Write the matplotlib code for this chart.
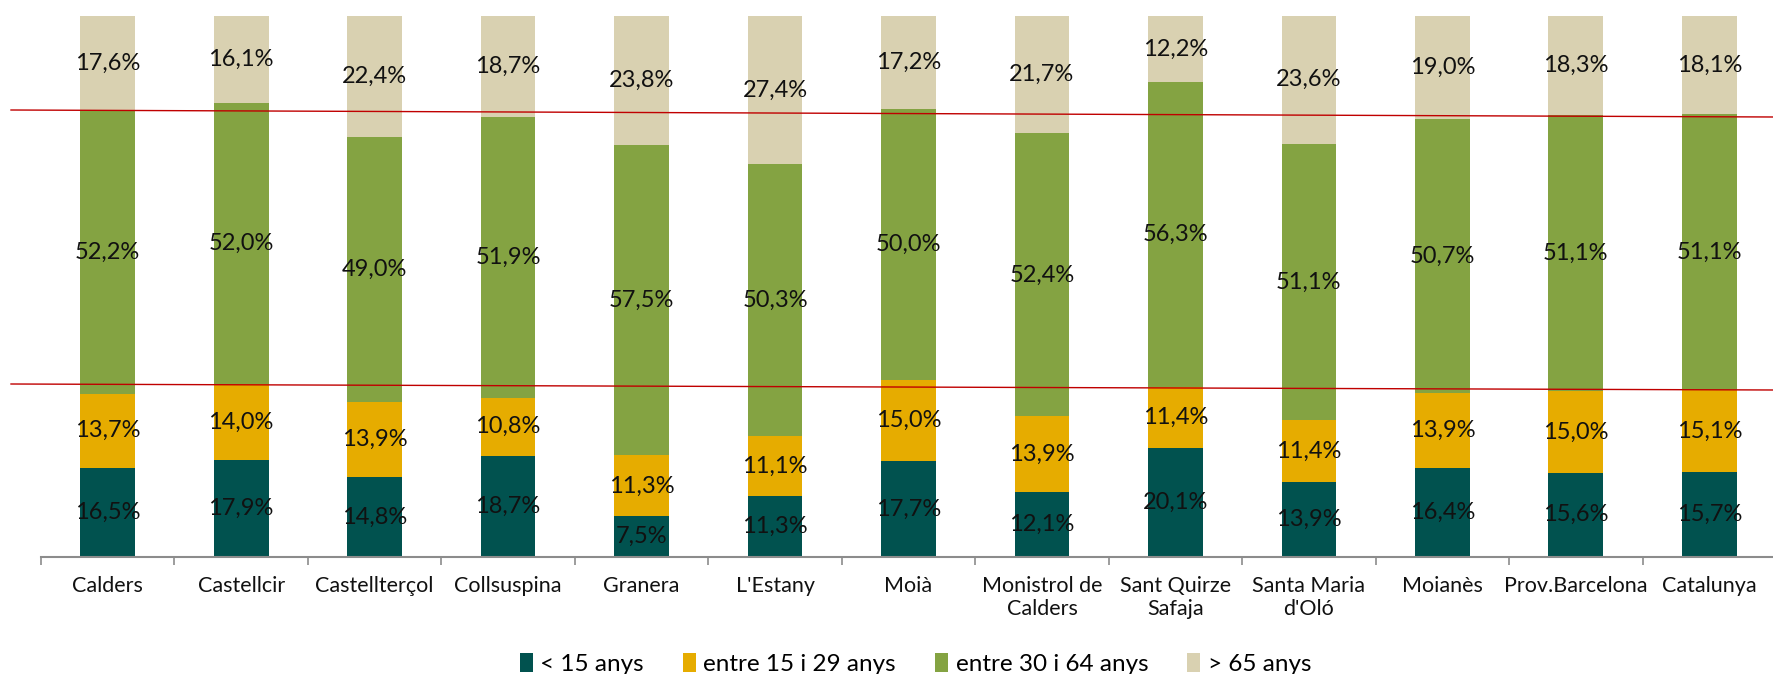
import matplotlib
matplotlib.use("Agg")
import matplotlib.pyplot as plt
import numpy as np
from matplotlib.lines import Line2D
from matplotlib.patches import Patch

categories = ['Calders', 'Castellcir', 'Castellterçol', 'Collsuspina', 'Granera',
              "L'Estany", 'Moià', 'Monistrol de\nCalders', 'Sant Quirze\nSafaja',
              "Santa Maria\nd'Oló", 'Moianès', 'Prov.Barcelona', 'Catalunya']
under15 = [16.5, 17.9, 14.8, 18.7, 7.5, 11.3, 17.7, 12.1, 20.1, 13.9, 16.4, 15.6, 15.7]
age15_29 = [13.7, 14.0, 13.9, 10.8, 11.3, 11.1, 15.0, 13.9, 11.4, 11.4, 13.9, 15.0, 15.1]
age30_64 = [52.2, 52.0, 49.0, 51.9, 57.5, 50.3, 50.0, 52.4, 56.3, 51.1, 50.7, 51.1, 51.1]
over65 = [17.6, 16.1, 22.4, 18.7, 23.8, 27.4, 17.2, 21.7, 12.2, 23.6, 19.0, 18.3, 18.1]
series_names = ['< 15 anys', 'entre 15 i 29 anys', 'entre 30 i 64 anys', '> 65 anys']
colors = ['#01524F', '#E6AC00', '#84A342', '#D9D1B1']

plt.rcParams['font.family'] = ['Lato', 'DejaVu Sans']

W, H = 1774, 674
fig = plt.figure(figsize=(W / 100, H / 100), dpi=100)
ax = fig.add_axes([41 / W, 1 - 557 / H, (1776 - 41) / W, (557 - 16) / H])

data = np.array([under15, age15_29, age30_64, over65], dtype=float)
pct = data / data.sum(axis=0) * 100
x = np.arange(len(categories))
bottom = np.zeros(len(categories))
for i in range(4):
    ax.bar(x, pct[i], bottom=bottom, width=0.41, color=colors[i], label=series_names[i], zorder=2)
    for j in range(len(categories)):
        txt = f"{data[i, j]:.1f}%".replace('.', ',')
        ax.text(x[j], bottom[j] + pct[i, j] / 2, txt, ha='center', va='center',
                fontsize=17, color='#111111', zorder=3)
    bottom += pct[i]

ax.set_xlim(-0.5, len(categories) - 0.5)
ax.set_ylim(0, 100)
ax.set_yticks([])
for s in ['top', 'right', 'left']:
    ax.spines[s].set_visible(False)
ax.spines['bottom'].set_color('#8C8C8C')
ax.spines['bottom'].set_linewidth(1.5)
ax.set_xticks(x)
ax.set_xticklabels(categories, fontsize=15.5, color='#111111', linespacing=1.15)
ax.tick_params(axis='x', which='major', length=0, pad=14)
ax.set_xticks(np.arange(len(categories) + 1) - 0.5, minor=True)
ax.tick_params(axis='x', which='minor', length=6, width=1.2, color='#8C8C8C', direction='out')

handles = [Patch(facecolor=c, edgecolor='none') for c in colors]
fig.legend(handles, series_names, loc='center', bbox_to_anchor=(0.516, 1 - 664 / H),
           ncol=4, frameon=False, fontsize=17.5, handlelength=0.55, handleheight=0.85,
           handletextpad=0.3, columnspacing=1.6)

# red reference lines
fig.add_artist(Line2D([11 / W, 1.0], [1 - 110 / H, 1 - 117 / H], transform=fig.transFigure,
                      color='#C00000', linewidth=1.0, zorder=5))
fig.add_artist(Line2D([11 / W, 1.0], [1 - 384 / H, 1 - 390 / H], transform=fig.transFigure,
                      color='#C00000', linewidth=1.0, zorder=5))

fig.savefig('out.png', dpi=100)
